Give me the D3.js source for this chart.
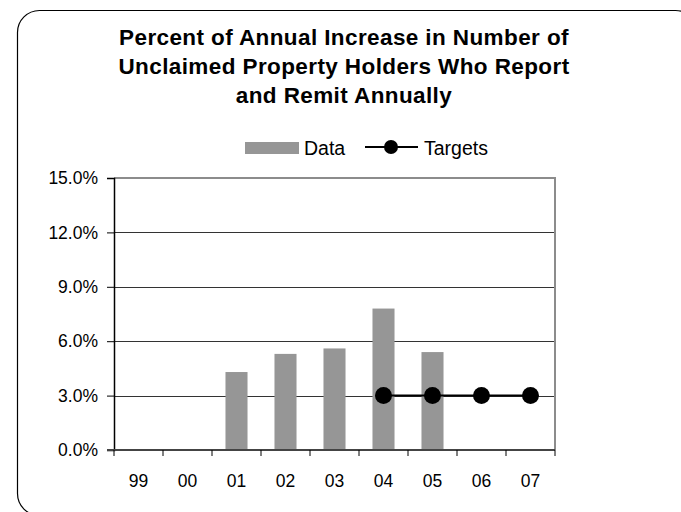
<!DOCTYPE html>
<html>
<head>
<meta charset="utf-8">
<script src="https://cdn.jsdelivr.net/npm/d3@7"></script>
<style>
  html, body { margin: 0; padding: 0; background: #fff; }
  svg { display: block; font-family: "Liberation Sans", Arial, sans-serif; }
</style>
</head>
<body>
<svg id="chart" width="681" height="512"></svg>
<script>
// Fiscal years (two-digit labels)
const years = ["99", "00", "01", "02", "03", "04", "05", "06", "07"];
// Actual annual increase (%), null where no data reported
const dataValues = [null, null, 4.3, 5.3, 5.6, 7.8, 5.4, null, null];
// Target increase (%), null where no target set
const targetValues = [null, null, null, null, null, 3.0, 3.0, 3.0, 3.0];
// Y axis tick values (%)
const yTicks = [0, 3, 6, 9, 12, 15];
const titleLines = [
  "Percent of Annual Increase in Number of",
  "Unclaimed Property Holders Who Report",
  "and Remit Annually"
];

const FONT = "Liberation Sans, Arial, sans-serif";
const svg = d3.select("#chart");
const plot = { left: 114, right: 555, top: 178, bottom: 450 };

// Outer rounded frame
svg.append("rect")
  .attr("x", 17.5).attr("y", 10.5)
  .attr("width", 680).attr("height", 505)
  .attr("rx", 22).attr("ry", 22)
  .attr("fill", "#fff").attr("stroke", "#000").attr("stroke-width", 1.2);

// Title
svg.append("text")
  .attr("text-anchor", "middle")
  .attr("font-weight", "bold").attr("font-size", 22.5).attr("letter-spacing", 0.4)
  .attr("fill", "#000")
  .selectAll("tspan").data(titleLines).join("tspan")
  .attr("x", 344).attr("y", (d, i) => 45 + i * 29)
  .text(d => d);

const x = d3.scaleBand().domain(years).range([plot.left, plot.right]).paddingInner(0).paddingOuter(0);
const y = d3.scaleLinear().domain([0, 15]).range([plot.bottom, plot.top]);
const barW = x.bandwidth() * 0.45;

// Horizontal gridlines
svg.append("g").selectAll("line")
  .data(yTicks.filter(t => t > 0 && t < 15)).join("line")
  .attr("x1", plot.left).attr("x2", plot.right)
  .attr("y1", d => Math.round(y(d)) + 0.5).attr("y2", d => Math.round(y(d)) + 0.5)
  .attr("stroke", "#333").attr("stroke-width", 1);

// Plot frame (top and right)
svg.append("path")
  .attr("d", `M${plot.left},${plot.top} H${plot.right} V${plot.bottom}`)
  .attr("fill", "none").attr("stroke", "#8c8c8c").attr("stroke-width", 2);

// Bars
svg.append("g").selectAll("rect")
  .data(years.map((yr, i) => ({ yr, v: dataValues[i] })).filter(d => d.v != null))
  .join("rect")
  .attr("x", d => x(d.yr) + x.bandwidth() / 2 - barW / 2)
  .attr("width", barW)
  .attr("y", d => y(d.v))
  .attr("height", d => y(0) - y(d.v))
  .attr("fill", "#969696");

// Y axis
const yAxis = d3.axisLeft(y).tickValues(yTicks).tickFormat(d => d.toFixed(1) + "%")
  .tickSize(7).tickPadding(9);
const gy = svg.append("g").attr("transform", `translate(${plot.left},0)`).call(yAxis);
gy.attr("font-size", null).attr("font-family", null);
gy.select(".domain").attr("stroke", "#000").attr("stroke-width", 1.5);
gy.selectAll(".tick line").attr("stroke", "#000");
gy.selectAll(".tick text").attr("font-size", 17.5).attr("fill", "#000")
  .attr("font-family", FONT);

// X axis: ticks at category boundaries, labels centered in bands
const gx = svg.append("g").attr("transform", `translate(0,${plot.bottom})`);
gx.append("line").attr("x1", plot.left - 7).attr("x2", plot.right)
  .attr("stroke", "#444").attr("stroke-width", 2);
const bounds = years.map(d => x(d)).concat([plot.right]);
gx.selectAll("line.tk").data(bounds).join("line").attr("class", "tk")
  .attr("x1", d => d).attr("x2", d => d).attr("y1", 0).attr("y2", 6)
  .attr("stroke", "#000");
gx.selectAll("text").data(years).join("text")
  .attr("x", d => x(d) + x.bandwidth() / 2).attr("y", 37)
  .attr("text-anchor", "middle").attr("font-size", 17.5).attr("fill", "#000")
  .text(d => d);

// Targets line and markers
const tData = years.map((yr, i) => ({ yr, v: targetValues[i] })).filter(d => d.v != null);
const cx = d => x(d.yr) + x.bandwidth() / 2;
svg.append("path")
  .datum(tData)
  .attr("d", d3.line().x(cx).y(d => y(d.v)))
  .attr("fill", "none").attr("stroke", "#000").attr("stroke-width", 2);
svg.append("g").selectAll("circle").data(tData).join("circle")
  .attr("cx", cx).attr("cy", d => y(d.v)).attr("r", 8.5).attr("fill", "#000");

// Legend
const lg = svg.append("g");
lg.append("rect").attr("x", 245).attr("y", 142).attr("width", 54).attr("height", 12).attr("fill", "#969696");
lg.append("text").attr("x", 304).attr("y", 155).attr("font-size", 19.5).text("Data");
lg.append("line").attr("x1", 365).attr("x2", 418).attr("y1", 147).attr("y2", 147)
  .attr("stroke", "#000").attr("stroke-width", 2);
lg.append("circle").attr("cx", 391).attr("cy", 147).attr("r", 7).attr("fill", "#000");
lg.append("text").attr("x", 424).attr("y", 155).attr("font-size", 19.5).text("Targets");
</script>
</body>
</html>
